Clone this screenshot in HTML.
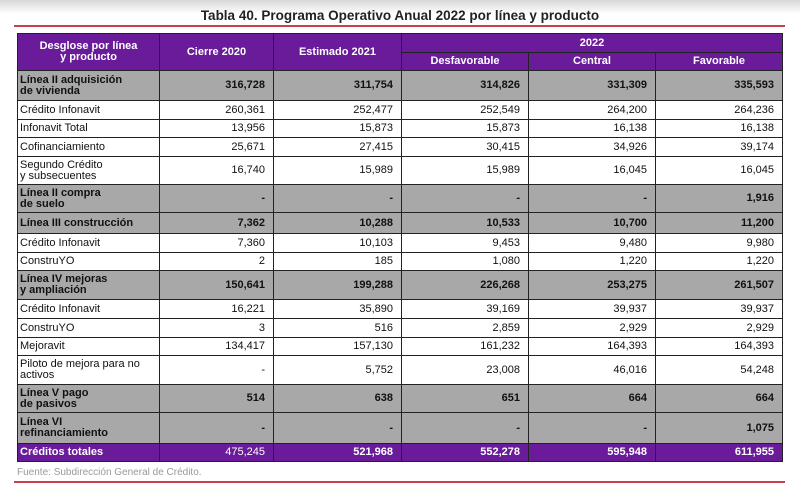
<!DOCTYPE html>
<html><head><meta charset="utf-8"><style>
body{margin:0;width:800px;height:500px;background:#fff;font-family:"Liberation Sans",Arial,sans-serif;position:relative;overflow:hidden}
.bgtop{position:absolute;left:0;top:0;width:800px;height:14px;background:linear-gradient(#d8d8d8,#fff)}
.title{position:absolute;left:0;width:800px;top:8px;text-align:center;font-weight:bold;font-size:13.5px;color:#222}
.rl{position:absolute;left:14px;width:771px;height:2px;background:#c8404a}
table{position:absolute;left:17px;top:33px;width:765px;border-collapse:collapse;table-layout:fixed;font-size:11px;color:#111}
td,th{border:1.5px solid #222;padding:0 8px;line-height:11px}
th{background:#6a1b9a;color:#fff;font-weight:bold;text-align:center}
td{text-align:right}
td:first-child{text-align:left;padding-left:2px}
tr.g td{background:#a8a8a8;font-weight:bold}
tr.t td{background:#6a1b9a;color:#fff;font-weight:bold}
.src{position:absolute;left:17px;top:467px;font-size:10px;color:#999}
</style></head><body>
<div class="bgtop"></div>
<div class="title">Tabla 40. Programa Operativo Anual 2022 por línea y producto</div>
<div class="rl" style="top:25px"></div>
<table>
<colgroup><col style="width:142px"><col style="width:114px"><col style="width:128px"><col style="width:127px"><col style="width:127px"><col style="width:127px"></colgroup>
<tr style="height:19px"><th rowspan="2">Desglose por línea<br>y producto</th><th rowspan="2">Cierre 2020</th><th rowspan="2">Estimado 2021</th><th colspan="3">2022</th></tr>
<tr style="height:18px"><th>Desfavorable</th><th>Central</th><th>Favorable</th></tr>
<tr class="g" style="height:30px"><td>Línea II adquisición<br>de vivienda</td><td>316,728</td><td>311,754</td><td>314,826</td><td>331,309</td><td>335,593</td></tr>
<tr style="height:19px"><td>Crédito Infonavit</td><td>260,361</td><td>252,477</td><td>252,549</td><td>264,200</td><td>264,236</td></tr>
<tr style="height:18px"><td>Infonavit Total</td><td>13,956</td><td>15,873</td><td>15,873</td><td>16,138</td><td>16,138</td></tr>
<tr style="height:19px"><td>Cofinanciamiento</td><td>25,671</td><td>27,415</td><td>30,415</td><td>34,926</td><td>39,174</td></tr>
<tr style="height:28px"><td>Segundo Crédito<br>y subsecuentes</td><td>16,740</td><td>15,989</td><td>15,989</td><td>16,045</td><td>16,045</td></tr>
<tr class="g" style="height:28px"><td>Línea II compra<br>de suelo</td><td>-</td><td>-</td><td>-</td><td>-</td><td>1,916</td></tr>
<tr class="g" style="height:21px"><td>Línea III construcción</td><td>7,362</td><td>10,288</td><td>10,533</td><td>10,700</td><td>11,200</td></tr>
<tr style="height:19px"><td>Crédito Infonavit</td><td>7,360</td><td>10,103</td><td>9,453</td><td>9,480</td><td>9,980</td></tr>
<tr style="height:18px"><td>ConstruYO</td><td>2</td><td>185</td><td>1,080</td><td>1,220</td><td>1,220</td></tr>
<tr class="g" style="height:29px"><td>Línea IV mejoras<br>y ampliación</td><td>150,641</td><td>199,288</td><td>226,268</td><td>253,275</td><td>261,507</td></tr>
<tr style="height:19px"><td>Crédito Infonavit</td><td>16,221</td><td>35,890</td><td>39,169</td><td>39,937</td><td>39,937</td></tr>
<tr style="height:19px"><td>ConstruYO</td><td>3</td><td>516</td><td>2,859</td><td>2,929</td><td>2,929</td></tr>
<tr style="height:18px"><td>Mejoravit</td><td>134,417</td><td>157,130</td><td>161,232</td><td>164,393</td><td>164,393</td></tr>
<tr style="height:29px"><td>Piloto de mejora para no<br>activos</td><td>-</td><td>5,752</td><td>23,008</td><td>46,016</td><td>54,248</td></tr>
<tr class="g" style="height:28px"><td>Línea V pago<br>de pasivos</td><td>514</td><td>638</td><td>651</td><td>664</td><td>664</td></tr>
<tr class="g" style="height:31px"><td>Línea VI<br>refinanciamiento</td><td>-</td><td>-</td><td>-</td><td>-</td><td>1,075</td></tr>
<tr class="t" style="height:18px"><td>Créditos totales</td><td style="font-weight:normal">475,245</td><td>521,968</td><td>552,278</td><td>595,948</td><td>611,955</td></tr>
</table>
<div class="src">Fuente: Subdirección General de Crédito.</div>
<div class="rl" style="top:481px"></div>
</body></html>
